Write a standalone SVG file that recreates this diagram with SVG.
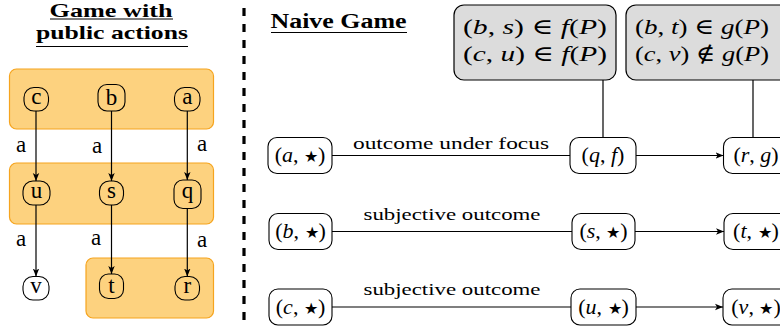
<svg xmlns="http://www.w3.org/2000/svg" width="780" height="331" viewBox="0 0 780 331" font-family="'Liberation Serif', 'DejaVu Serif', serif">
<style>
text{font-family:'Liberation Serif','DejaVu Serif',serif;fill:#000}
.title{font-weight:bold;font-size:19px;text-anchor:middle}
.grp{fill:#FDD27F;stroke:#F6A41E;stroke-width:1.2}
.sn{fill:none;stroke:#000;stroke-width:1.1}
.st{font-size:23px;text-anchor:middle}
.lbl{font-size:23px;text-anchor:middle}
.nd{fill:#fff;stroke:#000;stroke-width:1.1}
.nt{font-size:22px;font-style:italic;text-anchor:middle}
.star{font-style:normal;font-size:16px}
.gb{fill:#DCDCDC;stroke:#000;stroke-width:1.2}
.gt{font-size:22px;font-style:italic;text-anchor:middle}
.up{font-style:normal}
.el{font-size:17px;text-anchor:middle}
.e{stroke:#000;stroke-width:1.2;fill:none}
.ul{stroke:#000;stroke-width:1.2}
</style>
<defs>
<marker id="ah" viewBox="0 0 10 10" refX="10" refY="5" markerWidth="8" markerHeight="8" markerUnits="userSpaceOnUse" orient="auto">
<path d="M0,1 L10,5 L0,9 L2.5,5 Z" fill="#000"/>
</marker>
</defs>

<!-- Left panel titles -->
<text class="title" x="111" y="17" textLength="123" lengthAdjust="spacingAndGlyphs">Game with</text>
<line class="ul" x1="50" y1="19" x2="173" y2="19"/>
<text class="title" x="112" y="39" textLength="152" lengthAdjust="spacingAndGlyphs">public actions</text>
<line class="ul" x1="36" y1="46.5" x2="188" y2="46.5"/>

<!-- groups -->
<g id="group-top"><rect class="grp" x="9.5" y="69" width="204" height="60" rx="7"/></g>
<g id="group-mid"><rect class="grp" x="9.5" y="163" width="204" height="61" rx="7"/></g>
<g id="group-bot"><rect class="grp" x="86" y="258" width="127.5" height="60" rx="7"/></g>

<!-- separator -->
<line x1="244" y1="8" x2="244" y2="322" stroke="#000" stroke-width="3.2" stroke-dasharray="8 8"/>

<!-- left nodes -->
<g id="node-c"><rect class="sn" x="24" y="87.5" width="24.5" height="23.5" rx="10"/><text class="st" x="36.3" y="104">c</text></g>
<g id="node-b"><rect class="sn" x="98" y="84.5" width="27" height="26.5" rx="9"/><text class="st" x="111.5" y="105">b</text></g>
<g id="node-a"><rect class="sn" x="174.5" y="87.5" width="25.5" height="23.5" rx="10"/><text class="st" x="187.3" y="104">a</text></g>
<g id="node-u"><rect class="sn" x="23" y="181" width="27" height="24" rx="10"/><text class="st" x="36.5" y="198">u</text></g>
<g id="node-s"><rect class="sn" x="99.5" y="181" width="24" height="24" rx="10"/><text class="st" x="111.5" y="198">s</text></g>
<g id="node-q"><rect class="sn" x="174" y="180" width="27" height="28.5" rx="9"/><text class="st" x="187.5" y="198">q</text></g>
<g id="node-v"><rect class="sn" x="23" y="276.5" width="26" height="23.5" rx="10"/><text class="st" x="36" y="293">v</text></g>
<g id="node-t"><rect class="sn" x="99.5" y="274" width="24" height="24.5" rx="9"/><text class="st" x="111.5" y="293">t</text></g>
<g id="node-r"><rect class="sn" x="175" y="276.5" width="24.5" height="23.5" rx="10"/><text class="st" x="187.3" y="293">r</text></g>

<!-- right panel title -->
<text x="338.5" y="28" font-weight="bold" font-size="20" text-anchor="middle" textLength="136" lengthAdjust="spacingAndGlyphs">Naive Game</text>
<line class="ul" x1="271" y1="32.5" x2="407" y2="32.5"/>

<!-- gray boxes -->
<g id="box-f"><rect class="gb" x="454" y="5" width="162" height="75" rx="10"/>
<text class="gt" x="535" y="34" textLength="144" lengthAdjust="spacingAndGlyphs"><tspan class="up">(</tspan>b<tspan class="up">,</tspan> s<tspan class="up">) ∈ </tspan>f<tspan class="up">(</tspan>P<tspan class="up">)</tspan></text>
<text class="gt" x="535" y="61" textLength="144" lengthAdjust="spacingAndGlyphs"><tspan class="up">(</tspan>c<tspan class="up">,</tspan> u<tspan class="up">) ∈ </tspan>f<tspan class="up">(</tspan>P<tspan class="up">)</tspan></text></g>
<g id="box-g"><rect class="gb" x="626" y="5" width="170" height="75" rx="10"/>
<text class="gt" x="702" y="34" textLength="134" lengthAdjust="spacingAndGlyphs"><tspan class="up">(</tspan>b<tspan class="up">,</tspan> t<tspan class="up">) ∈ </tspan>g<tspan class="up">(</tspan>P<tspan class="up">)</tspan></text>
<text class="gt" x="702" y="61" textLength="134" lengthAdjust="spacingAndGlyphs"><tspan class="up">(</tspan>c<tspan class="up">,</tspan> v<tspan class="up">) ∉ </tspan>g<tspan class="up">(</tspan>P<tspan class="up">)</tspan></text></g>

<!-- right nodes -->
<g id="node-a-star"><rect class="nd" x="268" y="137.5" width="64" height="36" rx="9"/><text class="nt" x="300" y="162"><tspan class="up">(</tspan>a<tspan class="up">, </tspan><tspan class="star">★</tspan><tspan class="up">)</tspan></text></g>
<g id="node-q-f"><rect class="nd" x="570" y="137.5" width="66" height="36" rx="9"/><text class="nt" x="603" y="162"><tspan class="up">(</tspan>q<tspan class="up">, </tspan>f<tspan class="up">)</tspan></text></g>
<g id="node-r-g"><rect class="nd" x="723.5" y="137.5" width="70" height="36" rx="9"/><text class="nt" x="756" y="162"><tspan class="up">(</tspan>r<tspan class="up">, </tspan>g<tspan class="up">)</tspan></text></g>
<g id="node-b-star"><rect class="nd" x="269" y="213.5" width="63" height="36" rx="9"/><text class="nt" x="300.5" y="238"><tspan class="up">(</tspan>b<tspan class="up">, </tspan><tspan class="star">★</tspan><tspan class="up">)</tspan></text></g>
<g id="node-s-star"><rect class="nd" x="572" y="213.5" width="63" height="36" rx="9"/><text class="nt" x="603.5" y="238"><tspan class="up">(</tspan>s<tspan class="up">, </tspan><tspan class="star">★</tspan><tspan class="up">)</tspan></text></g>
<g id="node-t-star"><rect class="nd" x="724" y="213.5" width="70" height="36" rx="9"/><text class="nt" x="756" y="238"><tspan class="up">(</tspan>t<tspan class="up">, </tspan><tspan class="star">★</tspan><tspan class="up">)</tspan></text></g>
<g id="node-c-star"><rect class="nd" x="269" y="289" width="63" height="36" rx="9"/><text class="nt" x="300.5" y="313.5"><tspan class="up">(</tspan>c<tspan class="up">, </tspan><tspan class="star">★</tspan><tspan class="up">)</tspan></text></g>
<g id="node-u-star"><rect class="nd" x="571" y="289" width="65" height="36" rx="9"/><text class="nt" x="603.5" y="313.5"><tspan class="up">(</tspan>u<tspan class="up">, </tspan><tspan class="star">★</tspan><tspan class="up">)</tspan></text></g>
<g id="node-v-star"><rect class="nd" x="723" y="289" width="70" height="36" rx="9"/><text class="nt" x="756" y="313.5"><tspan class="up">(</tspan>v<tspan class="up">, </tspan><tspan class="star">★</tspan><tspan class="up">)</tspan></text></g>

<!-- connectors -->
<g id="connectors">
<line class="e" x1="36" y1="111" x2="36" y2="181" marker-end="url(#ah)"/>
<line class="e" x1="111.5" y1="111" x2="111.5" y2="181" marker-end="url(#ah)"/>
<line class="e" x1="187.3" y1="111" x2="187.3" y2="180" marker-end="url(#ah)"/>
<line class="e" x1="36" y1="205" x2="36" y2="276.5" marker-end="url(#ah)"/>
<line class="e" x1="111.5" y1="205" x2="111.5" y2="274" marker-end="url(#ah)"/>
<line class="e" x1="187.3" y1="208.5" x2="187.3" y2="276.5" marker-end="url(#ah)"/>
<text class="lbl" x="21" y="152">a</text>
<text class="lbl" x="97" y="153">a</text>
<text class="lbl" x="202" y="151">a</text>
<text class="lbl" x="21" y="246">a</text>
<text class="lbl" x="96" y="245">a</text>
<text class="lbl" x="202" y="247">a</text>

<line class="e" x1="603" y1="80" x2="603" y2="137.5" stroke-width="1.8"/>
<line class="e" x1="753" y1="80" x2="753" y2="137.5" stroke-width="1.8"/>

<line class="e" x1="332" y1="155.5" x2="570" y2="155.5"/>
<text class="el" x="451" y="149" textLength="196" lengthAdjust="spacingAndGlyphs">outcome under focus</text>
<line class="e" x1="636" y1="155.5" x2="723.5" y2="155.5" marker-end="url(#ah)"/>

<line class="e" x1="332" y1="231.5" x2="572" y2="231.5"/>
<text class="el" x="452" y="220" textLength="177" lengthAdjust="spacingAndGlyphs">subjective outcome</text>
<line class="e" x1="635" y1="231.5" x2="724" y2="231.5" marker-end="url(#ah)"/>

<line class="e" x1="332" y1="307" x2="571" y2="307"/>
<text class="el" x="452" y="295" textLength="177" lengthAdjust="spacingAndGlyphs">subjective outcome</text>
<line class="e" x1="636" y1="307" x2="723" y2="307" marker-end="url(#ah)"/>
</g>
</svg>
